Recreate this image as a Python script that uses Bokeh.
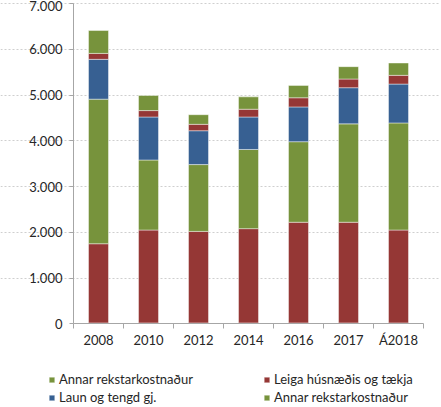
from bokeh.plotting import figure
from bokeh.models import ColumnDataSource, Range1d, FixedTicker, Legend, LegendItem
from bokeh.embed import file_html
from bokeh.resources import INLINE

categories = ["2008", "2010", "2012", "2014", "2016", "2017", "Á2018"]
laun_base = [20, 20, 20, 20, 20, 20, 20]
leiga = [1730, 2030, 2000, 2060, 2200, 2200, 2030]
annar = [3160, 1530, 1460, 1730, 1760, 2150, 2340]
laun = [870, 940, 740, 710, 760, 790, 850]
leiga_top = [130, 140, 140, 170, 200, 190, 190]
annar_top = [500, 330, 210, 270, 270, 270, 270]
y_ticks = [0, 1000, 2000, 3000, 4000, 5000, 6000, 7000]

GREEN = "#77933C"
RED = "#953735"
BLUE = "#376092"
FONT = "Lato"

stackers = ["s0", "s1", "s2", "s3", "s4", "s5"]
colors = [BLUE, RED, GREEN, BLUE, RED, GREEN]
n = len(categories)
xs = [i + 0.5 for i in range(n)]
source = ColumnDataSource(dict(x=xs, s0=laun_base, s1=leiga, s2=annar, s3=laun, s4=leiga_top, s5=annar_top))

# The frame spans the whole canvas; axes are pinned at x=0 / y=0 so the
# legend below the chart lies inside the frame.
p = figure(width=440, height=406, output_backend="svg", toolbar_location=None,
           x_range=Range1d(-1.46, n + 0.34), y_range=Range1d(-1807, 7066),
           min_border_left=0, min_border_right=0, min_border_top=0, min_border_bottom=0)
p.outline_line_color = None

rs = p.vbar_stack(stackers, x="x", width=0.4, source=source, color=colors,
                  line_color="white", line_alpha=0.55, line_width=0.8)

# axes
p.xaxis.fixed_location = 0
p.xaxis.bounds = (0, n)
p.xaxis.ticker = FixedTicker(ticks=xs, minor_ticks=list(range(n + 1)))
p.xaxis.major_label_overrides = {x: c for x, c in zip(xs, categories)}
p.xaxis.major_tick_out = 0
p.xaxis.major_tick_in = 0
p.xaxis.minor_tick_out = 5
p.xaxis.minor_tick_in = 0
p.xaxis.major_label_standoff = 3

p.yaxis.fixed_location = 0
p.yaxis.bounds = (y_ticks[0], y_ticks[-1])
p.yaxis.ticker = FixedTicker(ticks=y_ticks)
p.yaxis.major_label_overrides = {v: f"{v:,}".replace(",", ".") for v in y_ticks}
p.yaxis.major_tick_out = 4
p.yaxis.major_tick_in = 0
p.yaxis.major_label_standoff = 7

for ax in (p.xaxis, p.yaxis):
    ax.axis_line_color = "#A6A6A6"
    ax.major_tick_line_color = "#A6A6A6"
    ax.minor_tick_line_color = "#A6A6A6"
    ax.major_label_text_font = FONT
    ax.major_label_text_font_size = "13px"
    ax.major_label_text_color = "#262626"
p.yaxis.minor_tick_line_color = None

p.xgrid.grid_line_color = None
p.ygrid.ticker = FixedTicker(ticks=y_ticks[1:])
p.ygrid.bounds = (0, n)
p.ygrid.grid_line_color = "#CFCFCF"
p.ygrid.grid_line_dash = "2 2"

common = dict(padding=0, margin=0, spacing=0, glyph_width=7, glyph_height=7,
              label_standoff=4, label_height=18,
              label_text_font=FONT, label_text_font_size="13px",
              label_text_color="#262626",
              background_fill_alpha=0, border_line_color=None)
leg1 = Legend(items=[LegendItem(label="Annar rekstarkostnaður", renderers=[rs[5]]),
                     LegendItem(label="Laun og tengd gj.", renderers=[rs[3]])],
              location=(48, 0), **common)
leg2 = Legend(items=[LegendItem(label="Leiga húsnæðis og tækja", renderers=[rs[4]]),
                     LegendItem(label="Annar rekstarkostnaður", renderers=[rs[2]])],
              location=(263, 0), **common)
p.add_layout(leg1, "center")
p.add_layout(leg2, "center")

open("out.html", "w").write(file_html(p, INLINE))
